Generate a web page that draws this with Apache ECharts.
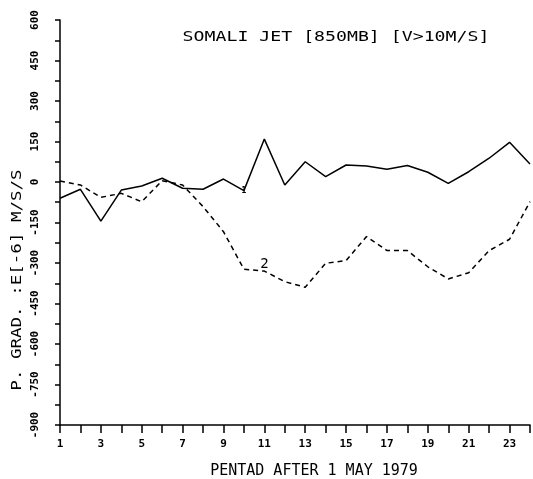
<!DOCTYPE html>
<html><head><meta charset="utf-8">
<script src="https://cdn.jsdelivr.net/npm/echarts@6/dist/echarts.min.js"></script>
<style>html,body{margin:0;padding:0;background:#fff}#c{width:533px;height:479px}</style>
</head><body><div id="c"></div>
<script>
const pentads = [1,2,3,4,5,6,7,8,9,10,11,12,13,14,15,16,17,18,19,20,21,22,23,24];
const series1 = [-60,-27,-145,-30,-15,14,-23,-27,11,-32,159,-11,75,20,63,59,47,61,36,-5,38,88,147,67];
const series2 = [4,-11,-57,-42,-73,5,-11,-91,-184,-323,-330,-369,-390,-301,-291,-202,-254,-254,-314,-359,-336,-254,-212,-73];
const yTicks = [-900,-750,-600,-450,-300,-150,0,150,300,450,600];
const xTickLabels = [1,3,5,7,9,11,13,15,17,19,21,23];
const titleText = 'SOMALI JET [850MB] [V>10M/S]';
const xName = 'PENTAD AFTER 1 MAY 1979';
const yName = 'P. GRAD. :E[-6] M/S/S';
const font = '"DejaVu Sans Mono", monospace';

const chart = echarts.init(document.getElementById('c'));
const d1 = pentads.map((p,i)=>{
  const o = {value:[p, series1[i]]};
  if (p === 10) o.label = {show:true, formatter:'1', position:'top', distance:-4, fontSize:8, fontWeight:'bold', fontFamily:font, color:'#000'};
  return o;
});
const d2 = pentads.map((p,i)=>{
  const o = {value:[p, series2[i]]};
  if (p === 11) o.label = {show:true, formatter:'2', position:'top', distance:0, fontSize:14, fontFamily:font, color:'#000'};
  return o;
});
chart.setOption({
  animation:false,
  backgroundColor:'#fff',
  grid:{left:60, right:3, top:20, bottom:54},
  xAxis:{type:'value', min:1, max:24, interval:1,
    axisLine:{onZero:false, lineStyle:{color:'#000', width:1.5}},
    axisTick:{length:8, lineStyle:{color:'#000', width:1.5}},
    axisLabel:{margin:14, fontFamily:font, fontSize:11, fontWeight:'bold', color:'#000',
      formatter:v=> xTickLabels.includes(v) ? String(v) : ''},
    splitLine:{show:false}},
  yAxis:{type:'value', min:-900, max:600, interval:75,
    axisLine:{show:true, onZero:false, lineStyle:{color:'#000', width:1.5}},
    axisTick:{show:true, length:5, lineStyle:{color:'#000', width:1.5}},
    axisLabel:{rotate:90, margin:19, fontFamily:font, fontSize:11, fontWeight:'bold', color:'#000',
      formatter:v=> yTicks.includes(v) ? String(v) : ''},
    splitLine:{show:false}},
  graphic:[
    {type:'text', x:336, y:37, scaleX:1.3,
      style:{text:titleText, font:'14px '+font, fill:'#000', textAlign:'center', textVerticalAlign:'middle'}},
    {type:'text', x:314, y:471,
      style:{text:xName, font:'15px '+font, fill:'#000', textAlign:'center', textVerticalAlign:'middle'}},
    {type:'text', x:17, y:280, rotation:Math.PI/2, scaleX:1.25,
      style:{text:yName, font:'14px '+font, fill:'#000', textAlign:'center', textVerticalAlign:'middle'}}
  ],
  series:[
    {type:'line', data:d1, symbol:'circle', symbolSize:0, showSymbol:true, lineStyle:{color:'#000', width:1.5}},
    {type:'line', data:d2, symbol:'circle', symbolSize:0, showSymbol:true, lineStyle:{color:'#000', width:1.5, type:[5,4]}}
  ]
});
</script></body></html>
